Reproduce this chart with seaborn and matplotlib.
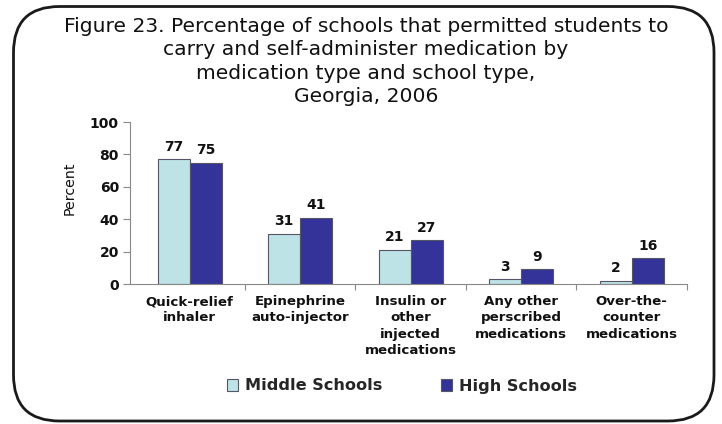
import matplotlib
matplotlib.use("Agg")
import matplotlib.pyplot as plt
from matplotlib.patches import FancyBboxPatch
import seaborn as sns
import pandas as pd

categories = [
    "Quick-relief\ninhaler",
    "Epinephrine\nauto-injector",
    "Insulin or\nother\ninjected\nmedications",
    "Any other\nperscribed\nmedications",
    "Over-the-\ncounter\nmedications",
]
middle_schools = [77, 31, 21, 3, 2]
high_schools = [75, 41, 27, 9, 16]
series_names = ["Middle Schools", "High Schools"]
y_ticks = [0, 20, 40, 60, 80, 100]
title_lines = [
    "Figure 23. Percentage of schools that permitted students to",
    "carry and self-administer medication by",
    "medication type and school type,",
    "Georgia, 2006",
]

df = pd.DataFrame({
    "category": categories * 2,
    "school": [series_names[0]] * len(categories) + [series_names[1]] * len(categories),
    "percent": middle_schools + high_schools,
})

sns.set_theme(style="white")
plt.rcParams["font.family"] = ["DejaVu Sans"]

W, H = 722, 424
fig = plt.figure(figsize=(W / 100, H / 100), dpi=100)

# rounded outer frame drawn in pixel space
bg = fig.add_axes([0, 0, 1, 1])
bg.set_xlim(0, W)
bg.set_ylim(H, 0)
bg.axis("off")
bg.add_patch(FancyBboxPatch((13.5, 6.5), 700.5, 414.5,
                            boxstyle="round,pad=0,rounding_size=46",
                            fill=False, edgecolor="#1a1a1a", linewidth=2.0))

# title, one baseline per line
for line, base in zip(title_lines, [32, 55, 79, 102]):
    fig.text(0.507, 1 - base / H, line, ha="center", va="baseline",
             fontsize=14.6, color="#111111")

ax = fig.add_axes([130 / W, 1 - 284 / H, (687 - 130) / W, (284 - 122) / H])
palette = {series_names[0]: "#bde3e6", series_names[1]: "#333399"}
sns.barplot(data=df, x="category", y="percent", hue="school", palette=palette,
            width=0.58, edgecolor="#555566", linewidth=0.8, saturation=1,
            ax=ax, legend=False)

for cont in ax.containers:
    ax.bar_label(cont, fmt="%d", padding=4, fontsize=10, fontweight="bold",
                 color="#111111")

ax.set_ylim(0, 100)
ax.set_yticks(y_ticks)
ax.set_yticklabels([str(v) for v in y_ticks], fontsize=10, fontweight="bold",
                   color="#111111")
ax.set_xlim(-0.54, len(categories) - 0.5)
ax.set_xticks(range(len(categories)))
ax.set_xticklabels(categories, fontsize=9.6, fontweight="bold", color="#111111",
                   linespacing=1.32, va="top")
ax.tick_params(axis="x", length=0, pad=8)
ax.tick_params(axis="y", length=5, width=0.8, color="#888888", left=True, pad=3)
# separators between categories on the x-axis
ax.set_xticks([i + 0.5 for i in range(len(categories))], minor=True)
ax.tick_params(axis="x", which="minor", length=4, width=0.8, color="#888888", bottom=True)

ax.set_xlabel("")
ax.set_ylabel("")
fig.text(70 / W, 1 - 188 / H, "Percent", rotation=90, ha="center", va="center",
         fontsize=10.2, color="#111111")
for side in ["top", "right"]:
    ax.spines[side].set_visible(False)
for side in ["left", "bottom"]:
    ax.spines[side].set_color("#888888")
    ax.spines[side].set_linewidth(0.8)

handles = [plt.Rectangle((0, 0), 1, 1, facecolor=palette[n], edgecolor="#555566",
                         linewidth=0.8) for n in series_names]
fig.legend(handles, series_names, loc="center", bbox_to_anchor=(0.557, 1 - 386 / H),
           ncol=2, frameon=False, handlelength=0.7, handleheight=0.7,
           handletextpad=0.45, columnspacing=3.6,
           prop={"size": 11.6, "weight": "bold"})

fig.savefig("out.png", dpi=100)
